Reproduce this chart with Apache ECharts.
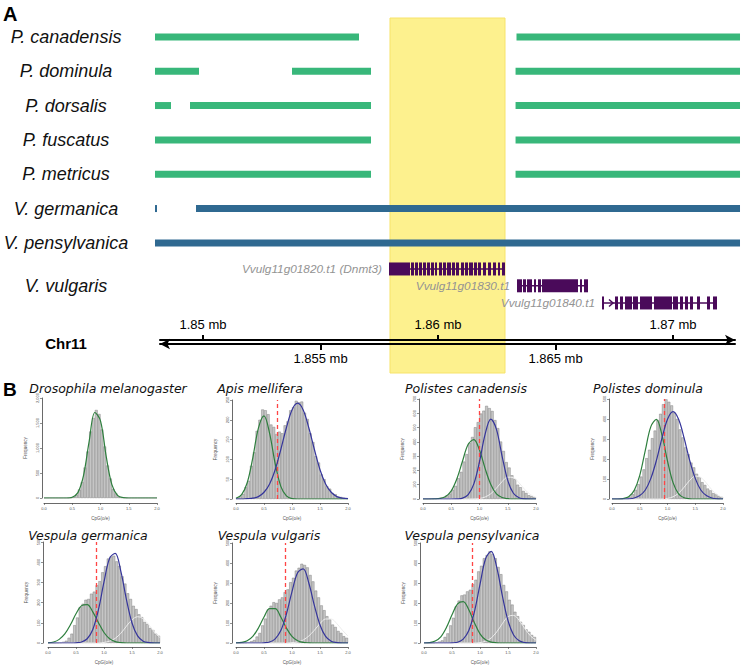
<!DOCTYPE html>
<html><head><meta charset="utf-8">
<script src="https://cdn.jsdelivr.net/npm/echarts@6/dist/echarts.min.js"></script>
<style>html,body{margin:0;padding:0;background:#fff}#c{width:742px;height:666px}</style>
</head><body><div id="c"></div>
<script>
// ================= Panel A data (genomic positions in mb) =================
const rowLabels = ['P. canadensis','P. dominula','P. dorsalis','P. fuscatus','P. metricus','V. germanica','V. pensylvanica','V. vulgaris','Chr11'];
const labelRows = [0,1,2,3,4,5,6,7.27,8.94];
const speciesGroup = [0,0,0,0,0,1,1]; // 0 = Polistes, 1 = Vespula
const segCanadensis   = [[1.847957,1.856638],[1.863340,1.872851]];
const segDominula     = [[1.847957,1.849830],[1.853787,1.857149],[1.863300,1.872851]];
const segDorsalis     = [[1.847957,1.848638],[1.849447,1.857149],[1.863300,1.872851]];
const segFuscatus     = [[1.847957,1.857149],[1.863300,1.872851]];
const segMetricus     = [[1.847957,1.857149],[1.863300,1.872851]];
const segGermanica    = [[1.847957,1.848043],[1.849702,1.872851]];
const segPensylvanica = [[1.847957,1.872851]];
const speciesSegments = [segCanadensis,segDominula,segDorsalis,segFuscatus,segMetricus,segGermanica,segPensylvanica];
const highlightRegion = [1.857957,1.862851];

const geneNames = ['Vvulg11g01820.t1 (Dnmt3)','Vvulg11g01830.t1','Vvulg11g01840.t1'];
const geneRows = [6.76,7.25,7.75];
const exons1820 = [[1.857915,1.858809],[1.858851,1.858979],[1.859021,1.859149],[1.859191,1.859319],[1.859362,1.859489],[1.859532,1.859660],[1.859702,1.859830],[1.859872,1.859957],[1.860043,1.860170],[1.860213,1.860340],[1.860383,1.860553],[1.860596,1.860723],[1.860766,1.860894],[1.860979,1.861106],[1.861149,1.861277],[1.861319,1.861489],[1.861532,1.861660],[1.861702,1.861830],[1.861915,1.862043],[1.862128,1.862255],[1.862340,1.862468],[1.862553,1.862638],[1.862723,1.862851]];
const exons1830 = [[1.863362,1.863574],[1.863617,1.863745],[1.863787,1.864000],[1.864085,1.864170],[1.864255,1.864383],[1.864426,1.865957],[1.866043,1.866128],[1.866213,1.866383]];
const exons1840 = [[1.866979,1.867064],[1.867532,1.867660],[1.867745,1.867872],[1.867957,1.868255],[1.868298,1.868511],[1.868596,1.869106],[1.869191,1.869957],[1.870000,1.870213],[1.870298,1.870426],[1.870511,1.870638],[1.870723,1.870851],[1.871021,1.871149],[1.871447,1.871574],[1.871702,1.871872]];
const geneExons = [exons1820,exons1830,exons1840];
const geneStrandArrow = [false,false,true];

const chrMin = 1.848170, chrMax = 1.872638;
const topTicks = [1.85,1.86,1.87];
const bottomTicks = [1.855,1.865];

// ================= Panel B data =================
const titles = ['Drosophila melanogaster','Apis mellifera','Polistes canadensis','Polistes dominula','Vespula germanica','Vespula vulgaris','Vespula pensylvanica'];
const yMax  = [2000,250,700,500,500,500,500];
const yStep = [500,50,100,100,100,100,100];
const cutoff = [null,0.745,1.0,0.94,0.857,0.875,0.857];
const binStart = ['0.00','0.05','0.10','0.15','0.20','0.25','0.30','0.35','0.40','0.45','0.50','0.55','0.60','0.65','0.70','0.75','0.80','0.85','0.90','0.95','1.00','1.05','1.10','1.15','1.20','1.25','1.30','1.35','1.40','1.45','1.50','1.55','1.60','1.65','1.70','1.75','1.80','1.85','1.90','1.95'];
const curveX = [0,0.1,0.2,0.3,0.4,0.5,0.6,0.7,0.8,0.9,1.0,1.1,1.2,1.3,1.4,1.5,1.6,1.7,1.8,1.9,2.0];

const histDmel = [0,0,0,0,0,0,0,0,0,6,25,68,170,320,610,930,1330,1600,1760,1680,1370,1030,650,390,180,90,30,12,4,0,0,0,0,0,0,0,0,0,0,0];
const histAmel = [3,7,13,30,46,84,118,172,200,226,224,214,188,182,164,170,166,186,196,224,232,248,244,246,218,202,166,144,108,92,62,50,32,26,15,12,6,5,3,2];
const histPcan = [0,0,1,2,4,5,9,13,26,38,65,92,146,190,262,314,392,434,502,538,598,618,652,636,616,552,496,402,336,258,220,166,138,100,82,56,42,26,19,12];
const histPdom = [0,0,0,1,3,7,12,24,46,74,112,148,204,246,304,342,394,426,474,498,486,468,432,400,348,308,258,224,182,158,126,108,84,70,52,43,29,23,14,10];
const histVger = [0,0,0,1,2,6,11,26,46,88,126,178,194,214,218,244,254,286,306,350,380,418,428,432,404,382,330,294,246,218,184,168,142,128,104,94,74,64,46,36];
const histVvul = [0,0,1,2,4,9,15,32,50,88,122,168,186,204,200,218,228,254,268,304,326,362,376,396,390,378,340,308,262,228,188,164,134,118,92,80,60,50,34,26];
const histVpen = [0,0,0,1,3,7,13,30,48,88,126,184,212,238,242,258,266,294,316,358,386,424,440,458,444,424,380,344,290,258,216,192,156,134,106,90,68,56,40,30];

const greenDmel = [0,0,0,0,0,16,108,453,1138,1710,1544,837,272,53,6,0,0,0,0,0,0];
const greenAmel = [2,11,41,104,179,210,166,89,32,8,1,0,0,0,0,0,0,0,0,0,0];
const blueAmel  = [0,0,1,2,6,17,38,74,125,180,225,242,225,180,125,74,38,17,6,2,1];
const greenPcan = [0,0,1,4,17,57,142,266,383,416,343,213,102,36,10,2,0,0,0,0,0];
const bluePcan  = [0,0,0,0,0,0,1,6,31,106,261,454,559,487,299,130,40,9,1,0,0];
const grayPcan  = [0,0,0,0,0,0,0,0,0,1,4,14,37,76,122,153,149,113,67,31,11];
const greenPdom = [0,0,2,11,43,118,243,362,398,320,190,82,26,6,1,0,0,0,0,0,0];
const bluePdom  = [0,0,0,1,5,17,45,103,193,304,399,437,399,304,193,103,45,17,5,1,0];
const grayPdom  = [0,0,0,0,0,0,0,0,0,0,3,11,29,59,93,114,108,80,46,21,7];
const greenVger = [1,5,18,45,90,145,185,190,154,101,52,21,7,2,0,0,0,0,0,0,0];
const blueVger  = [0,0,0,0,0,1,5,21,67,164,302,420,444,356,216,99,35,9,2,0,0];
const grayVger  = [0,0,0,0,0,0,0,0,0,0,3,9,23,48,83,115,130,120,90,54,27];
const greenVvul = [1,3,11,33,75,130,172,172,130,75,33,11,3,1,0,0,0,0,0,0,0];
const blueVvul  = [0,0,0,0,0,1,5,21,62,145,257,351,371,300,187,90,33,9,2,0,0];
const grayVvul  = [0,0,0,0,0,0,0,0,0,0,2,5,15,35,64,97,120,120,97,64,35];
const greenVpen = [0,2,10,31,77,141,196,207,166,101,46,16,4,1,0,0,0,0,0,0,0];
const blueVpen  = [0,0,0,0,0,1,4,19,62,156,293,421,458,377,235,112,40,11,2,0,0];
const grayVpen  = [0,0,0,0,0,0,0,0,0,0,2,9,25,56,97,132,138,113,72,36,14];

const hists  = [histDmel,histAmel,histPcan,histPdom,histVger,histVvul,histVpen];
const greens = [greenDmel,greenAmel,greenPcan,greenPdom,greenVger,greenVvul,greenVpen];
const blues  = [null,blueAmel,bluePcan,bluePdom,blueVger,blueVvul,blueVpen];
const grays  = [null,null,grayPcan,grayPdom,grayVger,grayVvul,grayVpen];

// ================= Layout / style =================
const GREEN = '#38b77a', BLUE = '#2f6991', PURPLE = '#4a0a5a';
const FONT_A = '"Liberation Sans", Arial, Helvetica, sans-serif';
const FONT_B = '"DejaVu Sans", Verdana, sans-serif';
const bLayout = [
  {left:44, top:398, width:113, height:100, xOff:5, yOff:2, tx:108, ty:388},
  {left:236, top:400, width:112, height:99, xOff:4, yOff:4, tx:260, ty:388},
  {left:423, top:399, width:113, height:100, xOff:4, yOff:4, tx:466, ty:388},
  {left:612, top:399, width:111, height:100, xOff:4, yOff:3, tx:648, ty:388},
  {left:48, top:542, width:112, height:101, xOff:4, yOff:5, tx:88, ty:535},
  {left:236, top:543, width:112, height:100, xOff:4, yOff:4, tx:269, ty:535},
  {left:424, top:543, width:112, height:100, xOff:4, yOff:4, tx:472, ty:535}
];

const chart = echarts.init(document.getElementById('c'), null, {renderer:'svg', width:742, height:666});

const grids = [{left:160, top:18, width:575, height:355, outerBoundsMode:'none'}];
const xAxes = [
  { type:'value', gridIndex:0, min:chrMin, max:chrMax, position:'bottom', offset:-29, z:20,
    axisLine:{show:true, onZero:false, symbol:['arrow','none'], symbolSize:[8,10], lineStyle:{color:'#000', width:2}},
    axisTick:{show:true, customValues:bottomTicks, length:6, lineStyle:{color:'#000', width:2}},
    axisLabel:{show:true, customValues:bottomTicks, formatter:(v)=> v + ' mb', margin:8, fontSize:13, color:'#000', fontFamily:FONT_A},
    splitLine:{show:false} },
  { type:'value', gridIndex:0, min:chrMin, max:chrMax, position:'bottom', offset:-33, z:20,
    axisLine:{show:true, onZero:false, symbol:['none','arrow'], symbolSize:[8,10], lineStyle:{color:'#000', width:2}},
    axisTick:{show:true, inside:true, customValues:topTicks, length:5, lineStyle:{color:'#000', width:2}},
    axisLabel:{show:true, inside:true, customValues:topTicks, formatter:(v)=> v + ' mb', margin:9, fontSize:13, color:'#000', fontFamily:FONT_A},
    splitLine:{show:false} }
];
const yAxes = [
  { type:'value', gridIndex:0, inverse:true, min:-0.55, max:9.79, z:20,
    axisLine:{show:false}, axisTick:{show:false}, splitLine:{show:false},
    axisLabel:{show:true, customValues:labelRows, align:'center', margin:94, fontSize:18, fontStyle:'italic', color:'#111', fontFamily:FONT_A,
      formatter:(v)=>{ const k = labelRows.findIndex(r=>Math.abs(r-v)<1e-6); if(k<0) return ''; const n = rowLabels[k]; return n==='Chr11' ? '{chr|'+n+'}' : n; },
      rich:{chr:{fontStyle:'normal', fontWeight:'bold', fontSize:15, color:'#000', fontFamily:FONT_A}} } }
];

const series = [];
// yellow highlight
series.push({
  type:'custom', xAxisIndex:0, yAxisIndex:0, clip:false, silent:true, z:-5,
  encode:{x:[0,1]},
  data:[[highlightRegion[0], highlightRegion[1]]],
  renderItem:(params, api)=>{
    const cs = params.coordSys;
    const a = api.coord([api.value(0), 0]);
    const b = api.coord([api.value(1), 0]);
    return {type:'rect', shape:{x:a[0], y:cs.y, width:b[0]-a[0], height:cs.height},
      style:{fill:'#fdf18e', stroke:'#f7e36a', lineWidth:1}};
  }
});
// species alignment bars
const barData = [];
speciesSegments.forEach((segs, i)=> segs.forEach(s => barData.push([s[0], s[1], i, speciesGroup[i]])));
series.push({
  type:'custom', xAxisIndex:0, yAxisIndex:0, clip:false, silent:true, z:3,
  encode:{x:[0,1], y:2},
  data:barData,
  renderItem:(params, api)=>{
    const a = api.coord([api.value(0), api.value(2)]);
    const b = api.coord([api.value(1), api.value(2)]);
    return {type:'rect', shape:{x:a[0], y:a[1]-3.5, width:Math.max(b[0]-a[0], 1.5), height:7},
      style:{fill: api.value(3)===0 ? GREEN : BLUE}};
  }
});
// gene models
series.push({
  type:'custom', xAxisIndex:0, yAxisIndex:0, clip:false, silent:true, z:4,
  encode:{x:[0,1], y:2},
  data: geneNames.map((n,i)=>[geneExons[i][0][0], geneExons[i][geneExons[i].length-1][1], geneRows[i], i]),
  renderItem:(params, api)=>{
    const gi = api.value(3);
    const a = api.coord([api.value(0), api.value(2)]);
    const b = api.coord([api.value(1), api.value(2)]);
    const cy = a[1];
    const children = [];
    children.push({type:'line', shape:{x1:a[0], y1:cy, x2:b[0], y2:cy}, style:{stroke:PURPLE, lineWidth:1.5}});
    geneExons[gi].forEach(e=>{
      const p = api.coord([e[0], api.value(2)]);
      const q = api.coord([e[1], api.value(2)]);
      children.push({type:'rect', shape:{x:p[0], y:cy-6.5, width:Math.max(q[0]-p[0],1), height:13}, style:{fill:PURPLE}});
    });
    if (geneStrandArrow[gi]) {
      const e0 = api.coord([geneExons[gi][0][1], api.value(2)]);
      const tip = e0[0] + 9;
      children.push({type:'polyline', shape:{points:[[tip-4, cy-3.5],[tip, cy],[tip-4, cy+3.5]]}, style:{stroke:PURPLE, lineWidth:1.5, fill:null}});
    }
    children.push({type:'text', x:a[0]-7, y:cy, style:{text:geneNames[gi], align:'right', textAlign:'right', verticalAlign:'middle', textVerticalAlign:'middle',
      fill:'#939393', font:'italic 11.8px ' + FONT_A}});
    return {type:'group', children};
  }
});

// ---------- Panel B ----------
const graphics = [
  {type:'text', x:3, y:14, style:{text:'A', font:'bold 20px ' + FONT_A, fill:'#000', textAlign:'left', align:'left', textVerticalAlign:'middle', verticalAlign:'middle'}},
  {type:'text', x:3, y:389, style:{text:'B', font:'bold 19px ' + FONT_A, fill:'#000', textAlign:'left', align:'left', textVerticalAlign:'middle', verticalAlign:'middle'}}
];
bLayout.forEach((L, i)=>{
  const gi = i + 1;
  grids.push({left:L.left, top:L.top, width:L.width, height:L.height, outerBoundsMode:'none'});
  const catIdx = xAxes.length;
  xAxes.push({type:'category', gridIndex:gi, data:binStart, show:false, boundaryGap:true, position:'bottom'});
  const valIdx = xAxes.length;
  xAxes.push({type:'value', gridIndex:gi, min:0, max:2, interval:0.5, position:'bottom', offset:L.xOff,
    axisLine:{show:true, onZero:false, lineStyle:{color:'#444', width:0.8}},
    axisTick:{show:true, length:2, lineStyle:{color:'#444', width:0.6}},
    axisLabel:{show:true, fontSize:4, color:'#555', margin:3, formatter:(v)=>v.toFixed(1), fontFamily:FONT_A},
    splitLine:{show:false},
    name:'CpG(o/e)', nameLocation:'middle', nameGap:13, nameTextStyle:{fontSize:4.5, color:'#555', fontFamily:FONT_A}});
  const yIdx = yAxes.length;
  yAxes.push({type:'value', gridIndex:gi, min:0, max:yMax[i], interval:yStep[i], position:'left', offset:L.yOff,
    axisLine:{show:true, onZero:false, lineStyle:{color:'#444', width:0.8}},
    axisTick:{show:true, length:2, lineStyle:{color:'#444', width:0.6}},
    axisLabel:{show:true, fontSize:4, color:'#555', margin:3, rotate:90, fontFamily:FONT_A},
    splitLine:{show:false},
    name:'Frequency', nameLocation:'middle', nameGap:14, nameRotate:90, nameTextStyle:{fontSize:4.5, color:'#555', fontFamily:FONT_A}});
  series.push({type:'bar', xAxisIndex:catIdx, yAxisIndex:yIdx, data:hists[i], barCategoryGap:'0%', silent:true,
    itemStyle:{color:'#c6c6c6', borderColor:'#7c7c7c', borderWidth:0.45}, z:2});
  const mk = (arr, color, w, z)=>({type:'line', xAxisIndex:valIdx, yAxisIndex:yIdx, smooth:0.35, showSymbol:false, silent:true, z,
    data: curveX.map((x,k)=>[x, arr[k]]), lineStyle:{color, width:w}});
  if (grays[i]) series.push(mk(grays[i], '#ececec', 1, 3));
  series.push(mk(greens[i], '#2e7f3e', 1.2, 4));
  if (blues[i]) series.push(mk(blues[i], '#35359b', 1.2, 5));
  if (cutoff[i] !== null) {
    series.push({type:'line', xAxisIndex:valIdx, yAxisIndex:yIdx, data:[], silent:true, z:6,
      markLine:{silent:true, symbol:['none','none'], label:{show:false}, animation:false,
        lineStyle:{color:'#ff4545', type:[4,3], width:1.3}, data:[{xAxis:cutoff[i]}]}});
  }
  graphics.push({type:'text', x:L.tx, y:L.ty, style:{text:titles[i], font:'italic 12.5px ' + FONT_B, fill:'#111',
    textAlign:'center', align:'center', textVerticalAlign:'middle', verticalAlign:'middle'}});
});

chart.setOption({
  animation:false,
  backgroundColor:'#fff',
  textStyle:{fontFamily:FONT_A},
  grid:grids, xAxis:xAxes, yAxis:yAxes, series, graphic:graphics
});
</script></body></html>
